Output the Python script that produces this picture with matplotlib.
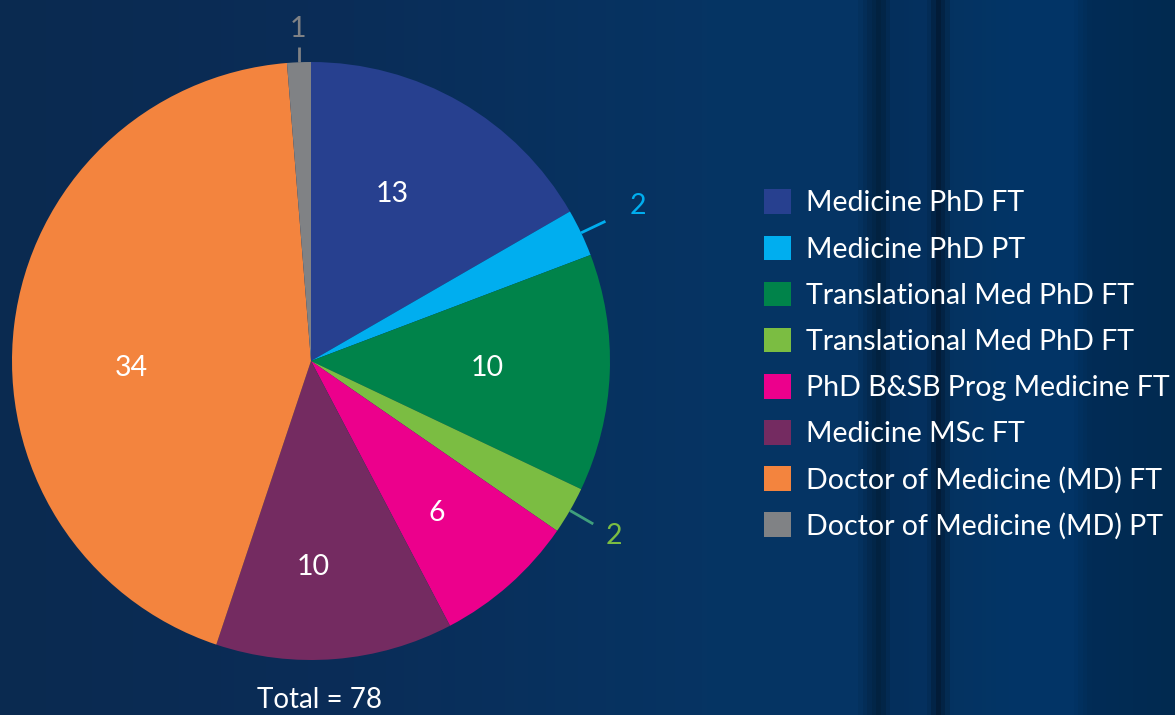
import numpy as np
import matplotlib
matplotlib.use("Agg")
import matplotlib.pyplot as plt
from matplotlib.colors import LinearSegmentedColormap

# ---- data ----
categories = ["Medicine PhD FT", "Medicine PhD PT", "Translational Med PhD FT",
              "Translational Med PhD FT", "PhD B&SB Prog Medicine FT",
              "Medicine MSc FT", "Doctor of Medicine (MD) FT",
              "Doctor of Medicine (MD) PT"]
values = [13, 2, 10, 2, 6, 10, 34, 1]
colors = ["#27408f", "#00aeef", "#00834a", "#7bbd42", "#ec008c",
          "#742b61", "#f3843e", "#808285"]
total_label = "Total = 78"

# label styling: inside (True) or outside with leader line
inside = [True, False, True, False, True, True, True, False]
label_colors = ["white", "#00aeef", "white", "#7bbd42", "white", "white", "white", "#808285"]
leader_colors = [None, "#00aeef", None, "#3f9f7c", None, None, None, "#808285"]
# label placement tweaks (angle offset in degrees, radius fraction)
label_dang = [4, 0, 0, 0, -2, -4, 9, 0]
label_rad = [0.62, 1.21, 0.59, 1.17, 0.66, 0.69, 0.60, 1.11]

FONT = "Lato"
W, H = 1175, 715
fig = plt.figure(figsize=(W / 100, H / 100), dpi=100)

# ---- background (decorative gradient with vertical stripes) ----
bg_ax = fig.add_axes([0, 0, 1, 1], zorder=-10)
stops = [(0.0, "#0a2a50"), (0.30, "#0a2d58"), (0.60, "#063463"),
         (0.73, "#053465"), (0.75, "#02223f"), (0.76, "#042f5c"),
         (0.79, "#04315f"), (0.80, "#021c38"), (0.812, "#053361"),
         (0.86, "#023566"), (0.915, "#023466"), (0.93, "#012c56"),
         (1.0, "#012a50")]
cmap = LinearSegmentedColormap.from_list("bg", stops)
grad = np.linspace(0, 1, 1175)[None, :]
bg_ax.imshow(grad, aspect="auto", cmap=cmap, extent=[0, 1, 0, 1])
bg_ax.set_axis_off()

# ---- pie axes placed so center ~ (311,361) px, radius ~ 299 px ----
cx, cy, R = 311, 361, 299
L = 1.3
half = L * R
ax = fig.add_axes([(cx - half) / W, (H - cy - half) / H, 2 * half / W, 2 * half / H])

wedges, _ = ax.pie(values, colors=colors, startangle=90, counterclock=False,
                   radius=1.0, wedgeprops=dict(linewidth=0))
ax.set_xlim(-L, L)
ax.set_ylim(-L, L)
ax.set_aspect("equal")
ax.set_axis_off()

for w, v, ins, lc, ldc, da, r in zip(wedges, values, inside, label_colors,
                                      leader_colors, label_dang, label_rad):
    ang = np.deg2rad((w.theta1 + w.theta2) / 2 + da)
    ca, sa = np.cos(ang), np.sin(ang)
    if not ins:
        if abs(ca) < 0.2:
            # near-vertical leader drawn straight up
            ax.plot([ca, ca], [sa, 1.05 * sa], color=ldc, lw=2, solid_capstyle="butt")
        else:
            ax.plot([1.0 * ca, 1.09 * ca], [1.0 * sa, 1.09 * sa], color=ldc, lw=2,
                    solid_capstyle="butt")
    ax.text(r * ca, r * sa, str(v), color=lc, fontsize=20.5, family=FONT,
            ha="center", va="center")

ax.text(0.03, -1.135, total_label, color="white", fontsize=20, family=FONT,
        ha="center", va="center")

# ---- legend ----
leg = fig.legend(wedges, categories, loc="upper left",
                 bbox_to_anchor=(753 / W, 1 - 178 / H), frameon=False,
                 prop=dict(family=FONT, size=20.5), labelcolor="white",
                 handlelength=0.95, handleheight=0.95, handletextpad=0.5,
                 labelspacing=0.67, borderaxespad=0)

fig.savefig("out.png", dpi=100)
